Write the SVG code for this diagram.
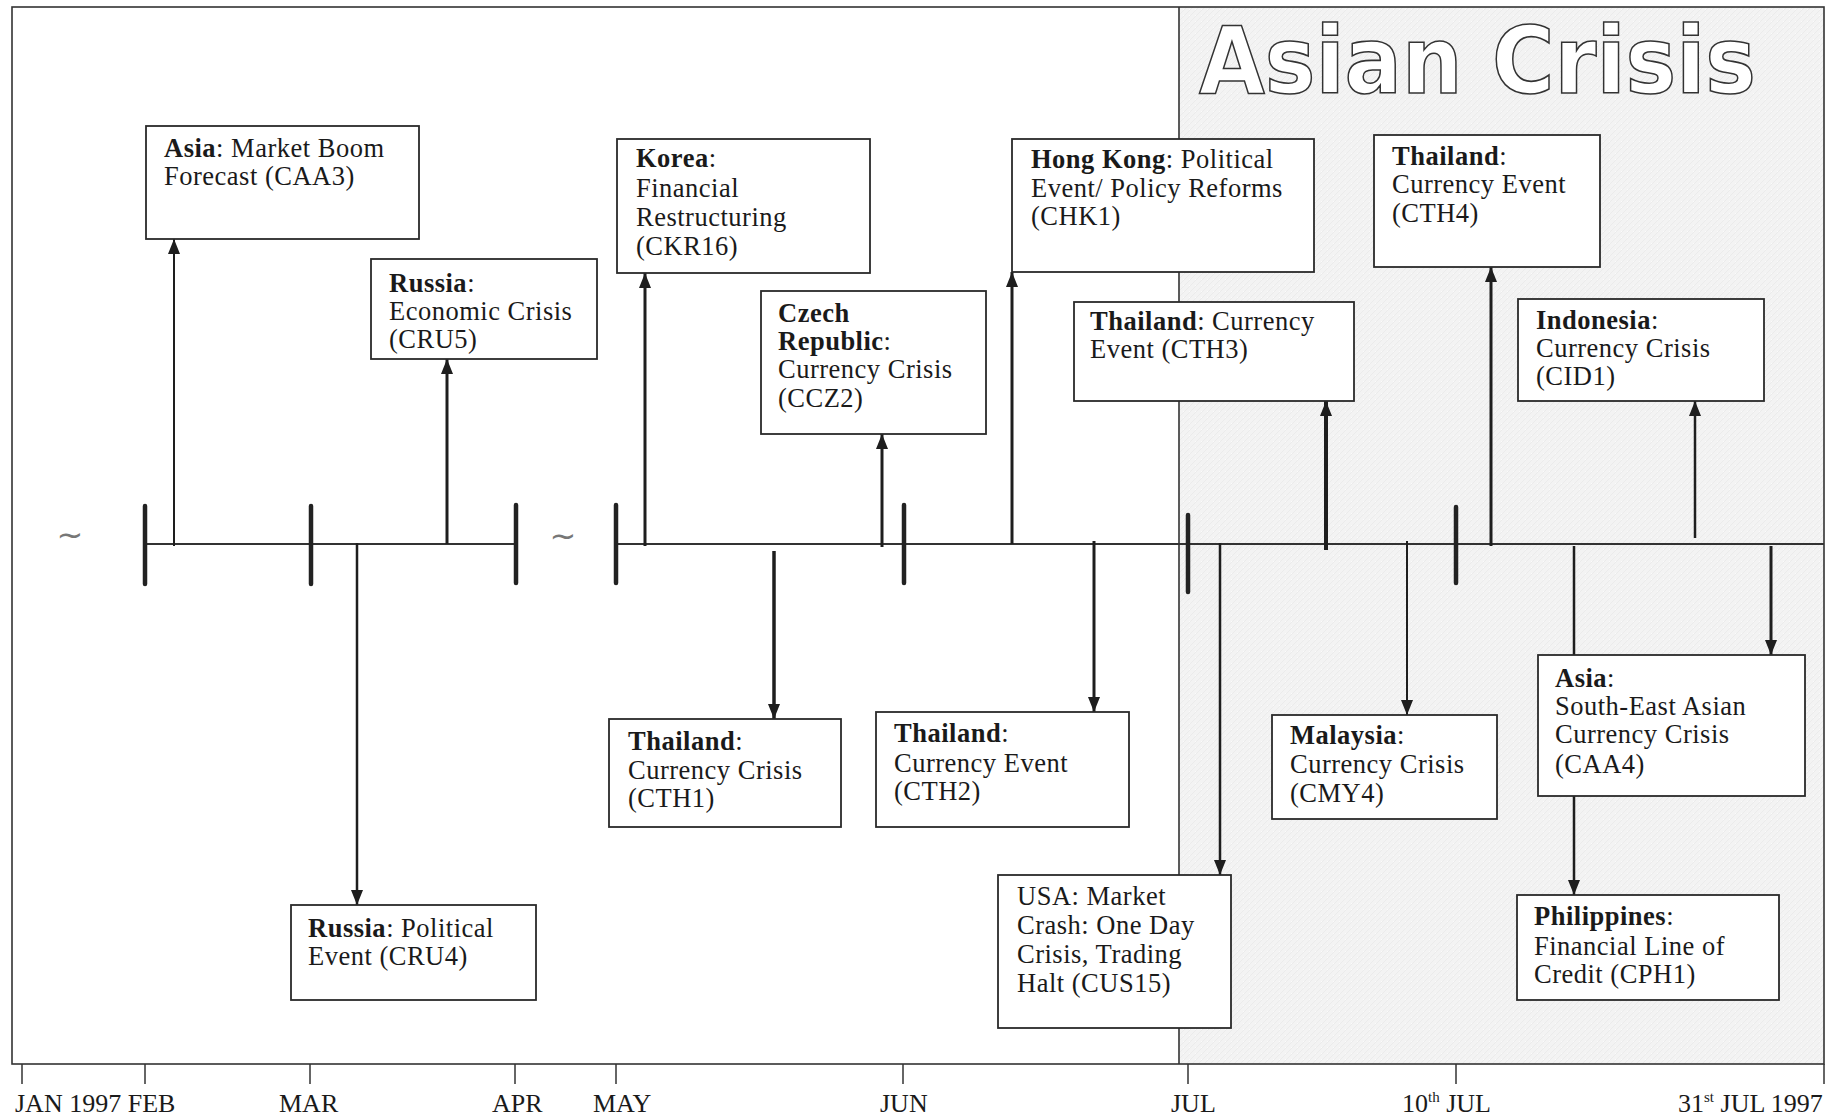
<svg xmlns="http://www.w3.org/2000/svg" width="1839" height="1117" viewBox="0 0 1839 1117">
  <style>
    .frame { fill: none; stroke: #333; stroke-width: 1.6; }
    .box { fill: #fff; stroke: #2a2a2a; stroke-width: 1.8; }
    .lbl { font-family: "Liberation Serif", "Times New Roman", serif; font-size: 26.5px; letter-spacing: 0.5px; fill: #1a1a1a; }
    .lbl .b { font-weight: bold; }
    .axis { font-family: "Liberation Serif", "Times New Roman", serif; font-size: 26px; fill: #1a1a1a; }
    .sup { font-size: 15px; }
    .tick { stroke: #222; stroke-width: 4.5; stroke-linecap: round; }
    .base { stroke: #333; stroke-width: 2; fill: none; }
    .conn { stroke: #1e1e1e; fill: none; }
    .mtick { stroke: #333; stroke-width: 1.5; }
    .tilde { font-family: "DejaVu Sans", sans-serif; font-size: 32px; fill: #777; }
    .title { font-family: "DejaVu Sans", "Liberation Sans", sans-serif; font-weight: bold; font-size: 92px; fill: #fff; stroke: #333; stroke-width: 1.6; }
  </style>
  <defs>
    <marker id="arrow" markerUnits="userSpaceOnUse" markerWidth="15" markerHeight="12" refX="15" refY="6" orient="auto">
      <path d="M0,0 L15,6 L0,12 z" fill="#1e1e1e"/>
    </marker>
    <pattern id="stipple" width="6" height="6" patternUnits="userSpaceOnUse">
      <rect width="6" height="6" fill="#f3f3f3"/>
      <path d="M0,6 L6,0" stroke="#e8e8e8" stroke-width="0.8"/>
      <rect x="1" y="3" width="1" height="1" fill="#fbfbfb"/>
    </pattern>
  </defs>

  <!-- page background and shaded July block -->
  <rect x="0" y="0" width="1839" height="1117" fill="#fff"/>
  <rect x="1179" y="7" width="645" height="1057" fill="url(#stipple)"/>

  <!-- title -->
  <text class="title" x="1199" y="93" textLength="557" lengthAdjust="spacingAndGlyphs">Asian Crisis</text>

  <!-- outer frame, July divider and month axis -->
  <g id="frame">
    <rect class="frame" x="12" y="7" width="1812" height="1057"/>
    <line class="frame" x1="1179" y1="7" x2="1179" y2="1064"/>
    <line class="mtick" x1="22" y1="1064" x2="22" y2="1084"/>
    <line class="mtick" x1="145" y1="1064" x2="145" y2="1084"/>
    <line class="mtick" x1="310" y1="1064" x2="310" y2="1084"/>
    <line class="mtick" x1="515" y1="1064" x2="515" y2="1084"/>
    <line class="mtick" x1="616" y1="1064" x2="616" y2="1084"/>
    <line class="mtick" x1="903" y1="1064" x2="903" y2="1084"/>
    <line class="mtick" x1="1188" y1="1064" x2="1188" y2="1084"/>
    <line class="mtick" x1="1456" y1="1064" x2="1456" y2="1084"/>
    <line class="mtick" x1="1824" y1="1064" x2="1824" y2="1084"/>
  </g>
  <g id="axis-labels" class="axis">
    <text x="15" y="1112">JAN 1997 FEB</text>
    <text x="279" y="1112">MAR</text>
    <text x="492" y="1112">APR</text>
    <text x="593" y="1112">MAY</text>
    <text x="880" y="1112">JUN</text>
    <text x="1171" y="1112">JUL</text>
    <text x="1402" y="1112">10<tspan class="sup" dy="-10">th</tspan><tspan dy="10"> JUL</tspan></text>
    <text x="1678" y="1112">31<tspan class="sup" dy="-10">st</tspan><tspan dy="10"> JUL 1997</tspan></text>
  </g>

  <!-- timeline -->
  <g id="timeline">
    <line class="base" x1="145" y1="544" x2="516" y2="544"/>
    <line class="base" x1="616" y1="544" x2="1824" y2="544"/>
    <line class="tick" x1="145" y1="506" x2="145" y2="584"/>
    <line class="tick" x1="311" y1="506" x2="311" y2="584"/>
    <line class="tick" x1="516" y1="505" x2="516" y2="583"/>
    <line class="tick" x1="616" y1="505" x2="616" y2="583"/>
    <line class="tick" x1="904" y1="505" x2="904" y2="583"/>
    <line class="tick" x1="1188" y1="515" x2="1188" y2="592"/>
    <line class="tick" x1="1456" y1="507" x2="1456" y2="583"/>
    <text class="tilde" x="70" y="546" text-anchor="middle">~</text>
    <text class="tilde" x="563" y="547" text-anchor="middle">~</text>
  </g>

  <!-- event connectors -->
  <g id="connectors" class="conn" marker-end="url(#arrow)">
    <line x1="174" y1="546" x2="174" y2="239" stroke-width="2"/>
    <line x1="447" y1="544" x2="447" y2="359" stroke-width="3"/>
    <line x1="645" y1="546" x2="645" y2="273" stroke-width="3"/>
    <line x1="882" y1="547" x2="882" y2="434" stroke-width="3"/>
    <line x1="1012" y1="544" x2="1012" y2="272" stroke-width="3"/>
    <line x1="1326" y1="550" x2="1326" y2="401" stroke-width="4"/>
    <line x1="1491" y1="546" x2="1491" y2="267" stroke-width="3"/>
    <line x1="1695" y1="538" x2="1695" y2="401" stroke-width="2.5"/>
    <line x1="357" y1="543" x2="357" y2="905" stroke-width="2.5"/>
    <line x1="774" y1="551" x2="774" y2="719" stroke-width="3.5"/>
    <line x1="1094" y1="541" x2="1094" y2="712" stroke-width="3"/>
    <line x1="1220" y1="543" x2="1220" y2="875" stroke-width="2.5"/>
    <line x1="1407" y1="541" x2="1407" y2="715" stroke-width="2"/>
    <line x1="1574" y1="546" x2="1574" y2="895" stroke-width="2.5"/>
    <line x1="1771" y1="546" x2="1771" y2="655" stroke-width="3"/>
  </g>

  <!-- events -->
  <g id="CAA3">
    <rect class="box" x="146" y="126" width="273" height="113"/>
    <text class="lbl" x="164" y="157"><tspan class="b">Asia</tspan>: Market Boom</text>
    <text class="lbl" x="164" y="185">Forecast (CAA3)</text>
  </g>
  <g id="CRU5">
    <rect class="box" x="371" y="259" width="226" height="100"/>
    <text class="lbl" x="389" y="292"><tspan class="b">Russia</tspan>:</text>
    <text class="lbl" x="389" y="320">Economic Crisis</text>
    <text class="lbl" x="389" y="348">(CRU5)</text>
  </g>
  <g id="CKR16">
    <rect class="box" x="617" y="139" width="253" height="134"/>
    <text class="lbl" x="636" y="167"><tspan class="b">Korea</tspan>:</text>
    <text class="lbl" x="636" y="197">Financial</text>
    <text class="lbl" x="636" y="226">Restructuring</text>
    <text class="lbl" x="636" y="255">(CKR16)</text>
  </g>
  <g id="CCZ2">
    <rect class="box" x="761" y="291" width="225" height="143"/>
    <text class="lbl" x="778" y="322"><tspan class="b">Czech</tspan></text>
    <text class="lbl" x="778" y="350"><tspan class="b">Republic</tspan>:</text>
    <text class="lbl" x="778" y="378">Currency Crisis</text>
    <text class="lbl" x="778" y="407">(CCZ2)</text>
  </g>
  <g id="CHK1">
    <rect class="box" x="1012" y="139" width="302" height="133"/>
    <text class="lbl" x="1031" y="168"><tspan class="b">Hong Kong</tspan>: Political</text>
    <text class="lbl" x="1031" y="197">Event/ Policy Reforms</text>
    <text class="lbl" x="1031" y="225">(CHK1)</text>
  </g>
  <g id="CTH3">
    <rect class="box" x="1074" y="302" width="280" height="99"/>
    <text class="lbl" x="1090" y="330"><tspan class="b">Thailand</tspan>: Currency</text>
    <text class="lbl" x="1090" y="358">Event (CTH3)</text>
  </g>
  <g id="CTH4">
    <rect class="box" x="1374" y="135" width="226" height="132"/>
    <text class="lbl" x="1392" y="165"><tspan class="b">Thailand</tspan>:</text>
    <text class="lbl" x="1392" y="193">Currency Event</text>
    <text class="lbl" x="1392" y="222">(CTH4)</text>
  </g>
  <g id="CID1">
    <rect class="box" x="1518" y="299" width="246" height="102"/>
    <text class="lbl" x="1536" y="329"><tspan class="b">Indonesia</tspan>:</text>
    <text class="lbl" x="1536" y="357">Currency Crisis</text>
    <text class="lbl" x="1536" y="385">(CID1)</text>
  </g>
  <g id="CRU4">
    <rect class="box" x="291" y="905" width="245" height="95"/>
    <text class="lbl" x="308" y="937"><tspan class="b">Russia</tspan>: Political</text>
    <text class="lbl" x="308" y="965">Event (CRU4)</text>
  </g>
  <g id="CTH1">
    <rect class="box" x="609" y="719" width="232" height="108"/>
    <text class="lbl" x="628" y="750"><tspan class="b">Thailand</tspan>:</text>
    <text class="lbl" x="628" y="779">Currency Crisis</text>
    <text class="lbl" x="628" y="807">(CTH1)</text>
  </g>
  <g id="CTH2">
    <rect class="box" x="876" y="712" width="253" height="115"/>
    <text class="lbl" x="894" y="742"><tspan class="b">Thailand</tspan>:</text>
    <text class="lbl" x="894" y="772">Currency Event</text>
    <text class="lbl" x="894" y="800">(CTH2)</text>
  </g>
  <g id="CUS15">
    <rect class="box" x="998" y="875" width="233" height="153"/>
    <text class="lbl" x="1017" y="905">USA: Market</text>
    <text class="lbl" x="1017" y="934">Crash: One Day</text>
    <text class="lbl" x="1017" y="963">Crisis, Trading</text>
    <text class="lbl" x="1017" y="992">Halt (CUS15)</text>
  </g>
  <g id="CMY4">
    <rect class="box" x="1272" y="715" width="225" height="104"/>
    <text class="lbl" x="1290" y="744"><tspan class="b">Malaysia</tspan>:</text>
    <text class="lbl" x="1290" y="773">Currency Crisis</text>
    <text class="lbl" x="1290" y="802">(CMY4)</text>
  </g>
  <g id="CAA4">
    <rect class="box" x="1538" y="655" width="267" height="141"/>
    <text class="lbl" x="1555" y="687"><tspan class="b">Asia</tspan>:</text>
    <text class="lbl" x="1555" y="715">South-East Asian</text>
    <text class="lbl" x="1555" y="743">Currency Crisis</text>
    <text class="lbl" x="1555" y="773">(CAA4)</text>
  </g>
  <g id="CPH1">
    <rect class="box" x="1517" y="895" width="262" height="105"/>
    <text class="lbl" x="1534" y="925"><tspan class="b">Philippines</tspan>:</text>
    <text class="lbl" x="1534" y="955">Financial Line of</text>
    <text class="lbl" x="1534" y="983">Credit (CPH1)</text>
  </g>
</svg>
